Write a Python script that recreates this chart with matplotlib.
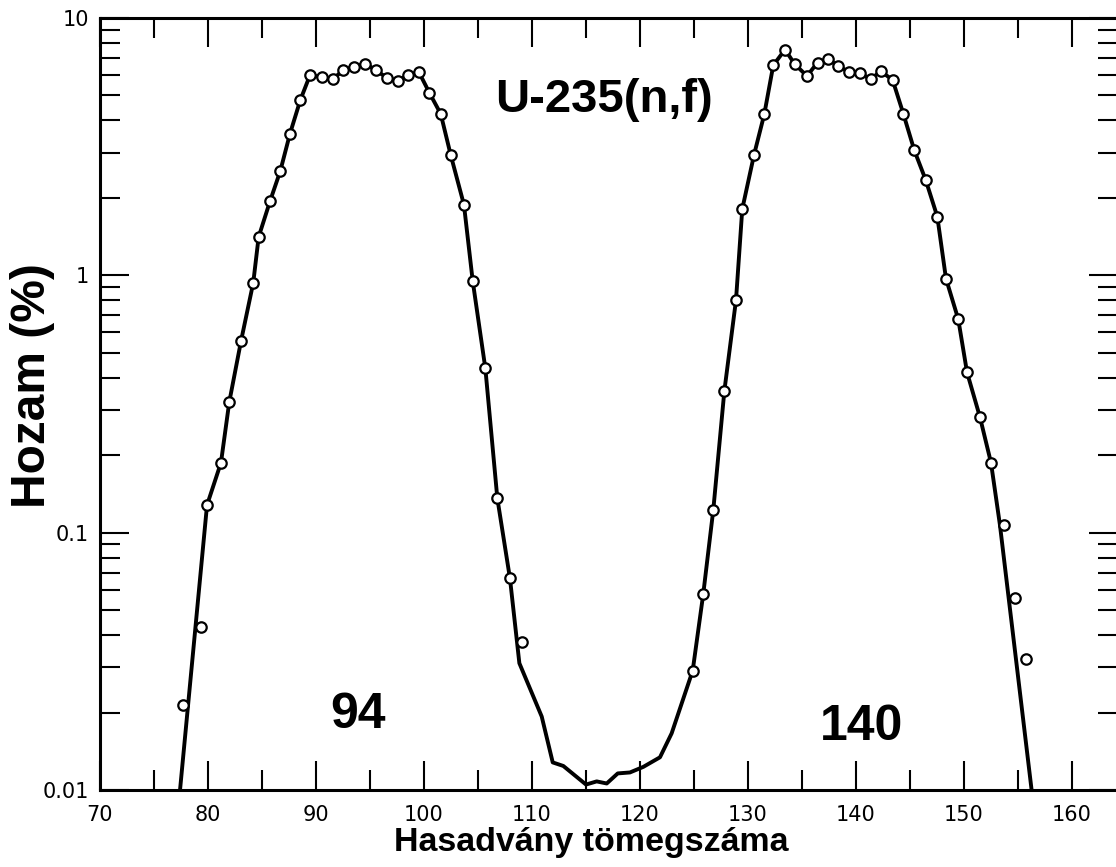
import numpy as np
import matplotlib
matplotlib.use('Agg')
import matplotlib.pyplot as plt
from matplotlib.ticker import FixedLocator, LogLocator, NullFormatter, FuncFormatter

# measured fission yields (circles)
mass = [77.66, 79.35, 79.91, 81.20, 81.97, 83.06, 84.19, 84.69, 85.74, 86.69,
        87.59, 88.55, 89.44, 90.58, 91.60, 92.53, 93.55, 94.56, 95.56, 96.55,
        97.56, 98.55, 99.54, 100.49, 101.55, 102.47, 103.70, 104.51, 105.68, 106.79,
        107.96, 109.05,
        124.88, 125.86, 126.79, 127.81, 128.89, 129.47, 130.56, 131.51, 132.34, 133.43,
        134.31, 135.46, 136.44, 137.41, 138.38, 139.35, 140.37, 141.36, 142.31, 143.40,
        144.38, 145.40, 146.45, 147.53, 148.33, 149.47, 150.28, 151.48, 152.50, 153.70,
        154.72, 155.74]
yld = [0.0213, 0.0429, 0.128, 0.187, 0.322, 0.556, 0.936, 1.41, 1.94, 2.54,
       3.55, 4.80, 5.99, 5.90, 5.80, 6.28, 6.47, 6.65, 6.26, 5.86,
       5.69, 6.02, 6.15, 5.13, 4.24, 2.94, 1.88, 0.951, 0.435, 0.136,
       0.0664, 0.0376,
       0.0291, 0.0579, 0.123, 0.355, 0.802, 1.81, 2.94, 4.23, 6.55, 7.54,
       6.63, 5.95, 6.71, 6.92, 6.50, 6.17, 6.11, 5.78, 6.22, 5.73,
       4.25, 3.06, 2.35, 1.69, 0.972, 0.675, 0.420, 0.281, 0.187, 0.107,
       0.0559, 0.0322]

# extra points of the evaluated curve (valley and feet)
foot_left_mass = [77.41]
foot_left_yld = [0.0100]
valley_mass = [108.83, 110.90, 111.92, 112.90, 115.00, 115.99, 116.92, 117.94,
               119.07, 120.31, 121.85, 122.93]
valley_yld = [0.0311, 0.0193, 0.0128, 0.0124, 0.0105, 0.0108, 0.0106, 0.0116,
              0.0117, 0.0123, 0.0134, 0.0166]
foot_right_mass = [153.33, 156.26]
foot_right_yld = [0.107, 0.0100]

line_mass = foot_left_mass + mass[2:31] + valley_mass + mass[32:61] + foot_right_mass
line_yld = foot_left_yld + yld[2:31] + valley_yld + yld[32:61] + foot_right_yld

fig = plt.figure(figsize=(11.16, 8.67), dpi=100)
ax = fig.add_axes([100/1116, 77/867, 1018/1116, 772/867])

ax.plot(line_mass, line_yld, color='black', lw=2.8, zorder=2)
ax.plot(mass, yld, 'o', ms=7.5, mfc='white', mec='black', mew=1.6, zorder=3)

ax.set_yscale('log')
ax.set_xlim(70, 164.26)
ax.set_ylim(0.01, 10)

ax.xaxis.set_major_locator(FixedLocator(np.arange(70, 161, 10)))
ax.xaxis.set_minor_locator(FixedLocator(np.arange(75, 161, 10)))
ax.yaxis.set_major_locator(LogLocator(base=10))
ax.yaxis.set_minor_locator(LogLocator(base=10, subs=np.arange(2, 10)))
ax.yaxis.set_minor_formatter(NullFormatter())
ax.yaxis.set_major_formatter(FuncFormatter(lambda v, p: '%g' % v))

ax.tick_params(which='both', direction='in', top=True, right=True, width=1.5,
               labelsize=15, colors='black')
ax.tick_params(which='major', length=21)
ax.tick_params(which='minor', length=14.5)
ax.tick_params(axis='y', pad=8)
ax.tick_params(axis='x', pad=10.5)
for s in ax.spines.values():
    s.set_linewidth(2.2)

ax.text(106.6, 4.31, 'U-235(n,f)', fontsize=34, fontweight='bold',
        family='Liberation Sans', ha='left', va='baseline')
ax.text(91.3, 0.0174, '94', fontsize=36, fontweight='bold',
        family='Liberation Sans', ha='left', va='baseline')
ax.text(136.67, 0.0156, '140', fontsize=36, fontweight='bold',
        family='Liberation Sans', ha='left', va='baseline')

fig.text(591/1116, 1 - 843/867, 'Hasadvány tömegszáma', fontsize=24.5,
         fontweight='bold', family='Liberation Sans', ha='center', va='center')
fig.text(33/1116, 1 - 386/867, 'Hozam (%)', fontsize=34.5, fontweight='bold',
         family='Liberation Sans', ha='center', va='center', rotation=90)

fig.savefig('out.png', dpi=100)
